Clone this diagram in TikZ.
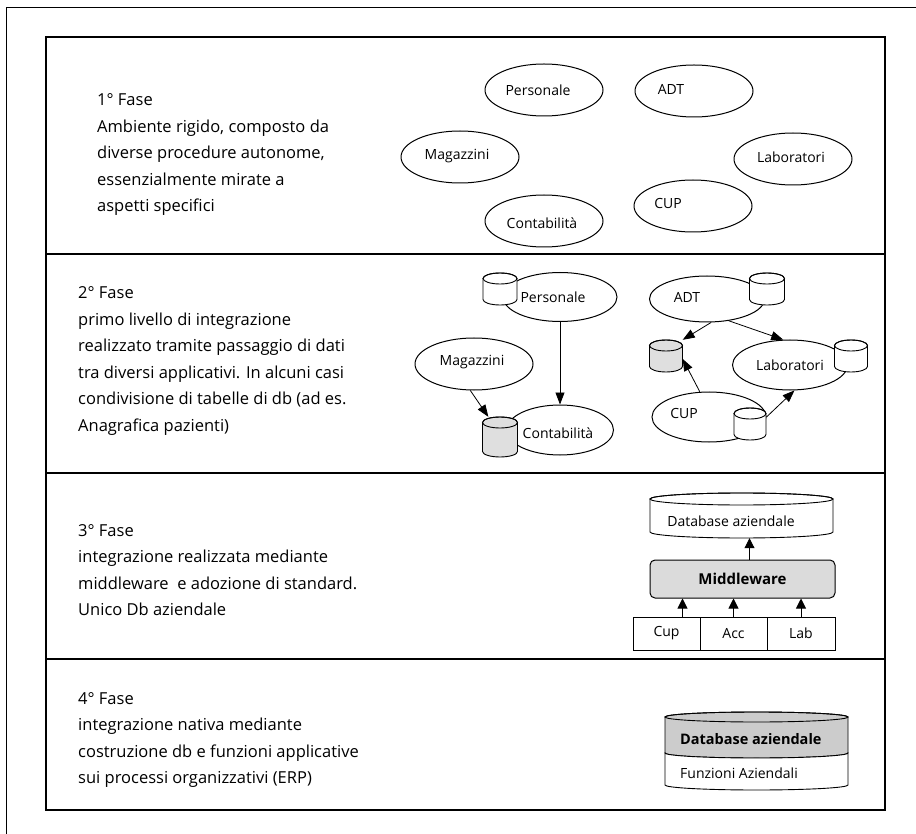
\documentclass[tikz,border=0pt]{standalone}
\usepackage{fontspec}
\setmainfont{Open Sans}
\usetikzlibrary{arrows.meta,calc,shapes.geometric}

% lines of a phase description, first baseline = node baseline
\newcommand\phaselines[1]{\vtop{\baselineskip=26.5pt\lineskiplimit=-30pt #1}}

\tikzset{
  frame/.style={line width=0.8pt},
  panel/.style={line width=1.2pt},
  body/.style={font=\fontsize{16.5}{26.5}\selectfont, inner sep=0pt, anchor=base west},
  lbl/.style={font=\fontsize{14}{16}\selectfont, inner sep=0pt},
  ell/.style={draw, ellipse, inner sep=0pt, line width=1pt, minimum width=118pt, minimum height=52pt},
  arr/.style={line width=0.8pt, -{Triangle[length=12pt,width=9pt]}},
  arrs/.style={line width=0.9pt, -{Triangle[length=10pt,width=10pt]}},
  cell/.style={draw, line width=0.9pt, inner sep=0pt, minimum width=67pt, minimum height=33pt,
               font=\fontsize{14}{16}\selectfont},
  mwbox/.style={draw, line width=1pt, rounded corners=5pt, fill=gray!28, inner sep=0pt,
                minimum width=185pt, minimum height=38pt, font=\fontsize{15}{16}\selectfont\bfseries},
  % database cylinder: width, height, cap radius, fill
  pics/dbcyl/.style n args={4}{code={
    \path[draw, line width=0.9pt, fill=#4]
      (-#1/2,#2/2-#3) -- (-#1/2,-#2/2+#3)
      arc[start angle=180, end angle=360, x radius=#1/2, y radius=#3]
      -- (#1/2,#2/2-#3)
      arc[start angle=0, end angle=180, x radius=#1/2, y radius=#3] -- cycle;
    \draw[line width=0.9pt] (0,#2/2-#3) ellipse[x radius=#1/2, y radius=#3];
    \node[inner sep=0pt, minimum width=#1pt, minimum height=#2pt] (-b) at (0,0) {};
  }},
}

\begin{document}
\begin{tikzpicture}[x=1pt, y=1pt]
\useasboundingbox (0,0) rectangle (916,-834);

% page frame and the four phase panels
\draw[frame] (6,-834) -- (6,-7) -- (916,-7);
\draw[panel] (46,-37) rectangle (885,-810);
\draw[panel] (46,-254) -- (885,-254);
\draw[panel] (46,-473) -- (885,-473);
\draw[panel] (46,-659) -- (885,-659);

% ---------- phase 1 ----------
\node[body] (t1) at (97,-106) {\phaselines{%
  \hbox{1° Fase}
  \hbox{Ambiente rigido, composto da}
  \hbox{diverse procedure autonome,}
  \hbox{essenzialmente mirate a}
  \hbox{aspetti specifici}}};

\node[ell] (pers1) at (544,-90) {};
\node[lbl] (pers1t) at (538,-90) {Personale};
\node[ell] (adt1) at (694,-91) {};
\node[lbl] (adt1t) at (671,-89) {ADT};
\node[ell] (mag1) at (460,-157) {};
\node[lbl] (mag1t) at (457,-156) {Magazzini};
\node[ell] (lab1) at (793,-159) {};
\node[lbl] (lab1t) at (791,-157) {Laboratori};
\node[ell] (cup1) at (693,-206) {};
\node[lbl] (cup1t) at (668,-204) {CUP};
\node[ell] (cont1) at (544,-221) {};
\node[lbl] (cont1t) at (542,-223) {Contabilità};

% ---------- phase 2 ----------
\node[body] (t2) at (78,-299) {\phaselines{%
  \hbox{2° Fase}
  \hbox{primo livello di integrazione}
  \hbox{realizzato tramite passaggio di dati}
  \hbox{tra diversi applicativi. In alcuni casi}
  \hbox{condivisione di tabelle di db (ad es.}
  \hbox{Anagrafica pazienti)}}};

\node[ell, minimum width=114pt, minimum height=49pt] (pers2) at (560,-297) {};
\node[ell, minimum width=115pt, minimum height=46pt] (adt2) at (707,-299) {};
\node[ell, minimum width=118pt, minimum height=52pt] (mag2) at (474,-364) {};
\node[ell, minimum width=107pt, minimum height=50pt] (cont2) at (560,-430) {};
\node[ell, minimum width=115pt, minimum height=50pt] (lab2) at (790,-365) {};
\node[ell, minimum width=114pt, minimum height=50pt] (cup2) at (709,-417) {};

\pic (pcyl) at (500,-289) {dbcyl={34}{32}{5.5}{white}};
\pic (acyl) at (767,-289) {dbcyl={35}{32}{5.5}{white}};
\pic (ccyl) at (500,-437) {dbcyl={35}{40}{5.5}{gray!25}};
\pic (lcyl) at (851,-356) {dbcyl={33}{32}{5.5}{white}};
\pic (gcyl) at (666,-356) {dbcyl={33}{32}{5.5}{gray!25}};
\pic (ucyl) at (750,-424) {dbcyl={32}{32}{5.5}{white}};

\node[lbl] (pers2t) at (553,-297) {Personale};
\node[lbl] (adt2t) at (687,-297) {ADT};
\node[lbl] (mag2t) at (472,-362) {Magazzini};
\node[lbl] (cont2t) at (558,-433) {Contabilità};
\node[lbl] (lab2t) at (790,-365) {Laboratori};
\node[lbl] (cup2t) at (684,-413) {CUP};

\draw[arr] (pers2.south) -- (cont2.north);
\draw[arr] (mag2.-98) -- (ccyl-b.120);
\draw[arr] (adt2.-80) -- (gcyl-b.north east);
\draw[arr] (adt2.-45) -- (lab2.105);
\draw[arr] (cup2.110) -- (gcyl-b.-10);
\draw[arr] (cup2.east) -- (lab2.-80);

% ---------- phase 3 ----------
\node[body] (t3) at (78,-536) {\phaselines{%
  \hbox{3° Fase}
  \hbox{integrazione realizzata mediante}
  \hbox{middleware\ \ e adozione di standard.}
  \hbox{Unico Db aziendale}}};

\pic (db3) at (741.5,-515.5) {dbcyl={183}{45}{6}{white}};
\node[lbl] (db3t) at (731,-521) {Database aziendale};
\node[mwbox] (mw) at (742.5,-579) {Middleware};
\node[cell] (bcup) at (666.5,-633.5) {Cup};
\node[cell] (bacc) at (733.5,-633.5) {Acc};
\node[cell, minimum width=68pt] (blab) at (801,-633.5) {Lab};

\coordinate (mwtop) at ([xshift=7pt]mw.north);
\coordinate (cupup) at ([xshift=16pt]bcup.north);
\draw[arrs] (mwtop) -- (mwtop |- db3-b.south);
\draw[arrs] (cupup) -- (cupup |- mw.south);
\draw[arrs] (bacc.north) -- (bacc.north |- mw.south);
\draw[arrs] (blab.north) -- (blab.north |- mw.south);

% ---------- phase 4 ----------
\node[body] (t4) at (78,-704) {\phaselines{%
  \hbox{4° Fase}
  \hbox{integrazione nativa mediante}
  \hbox{costruzione db e funzioni applicative}
  \hbox{sui processi organizzativi (ERP)}}};

% two-layer cylinder: shared database on top of the business functions
\path[draw, line width=0.9pt, fill=gray!40]
  (665,-717) -- (665,-753)
  arc[start angle=180, end angle=360, x radius=91.5, y radius=5]
  -- (848,-717)
  arc[start angle=0, end angle=180, x radius=91.5, y radius=5] -- cycle;
\path[draw, line width=0.9pt, fill=white]
  (665,-753) -- (665,-785)
  arc[start angle=180, end angle=360, x radius=91.5, y radius=5]
  -- (848,-753)
  arc[start angle=360, end angle=180, x radius=91.5, y radius=5] -- cycle;
\draw[line width=0.9pt] (756.5,-717) ellipse[x radius=91.5, y radius=5];
\node[inner sep=0pt, minimum width=183pt, minimum height=78pt] (erp) at (756.5,-751) {};
\node[lbl, font=\fontsize{14.5}{16}\selectfont\bfseries, anchor=west] (erpdb) at (680,-739) {Database aziendale};
\node[lbl, anchor=west] (erpfn) at (680,-773) {Funzioni Aziendali};

\end{tikzpicture}
\end{document}
